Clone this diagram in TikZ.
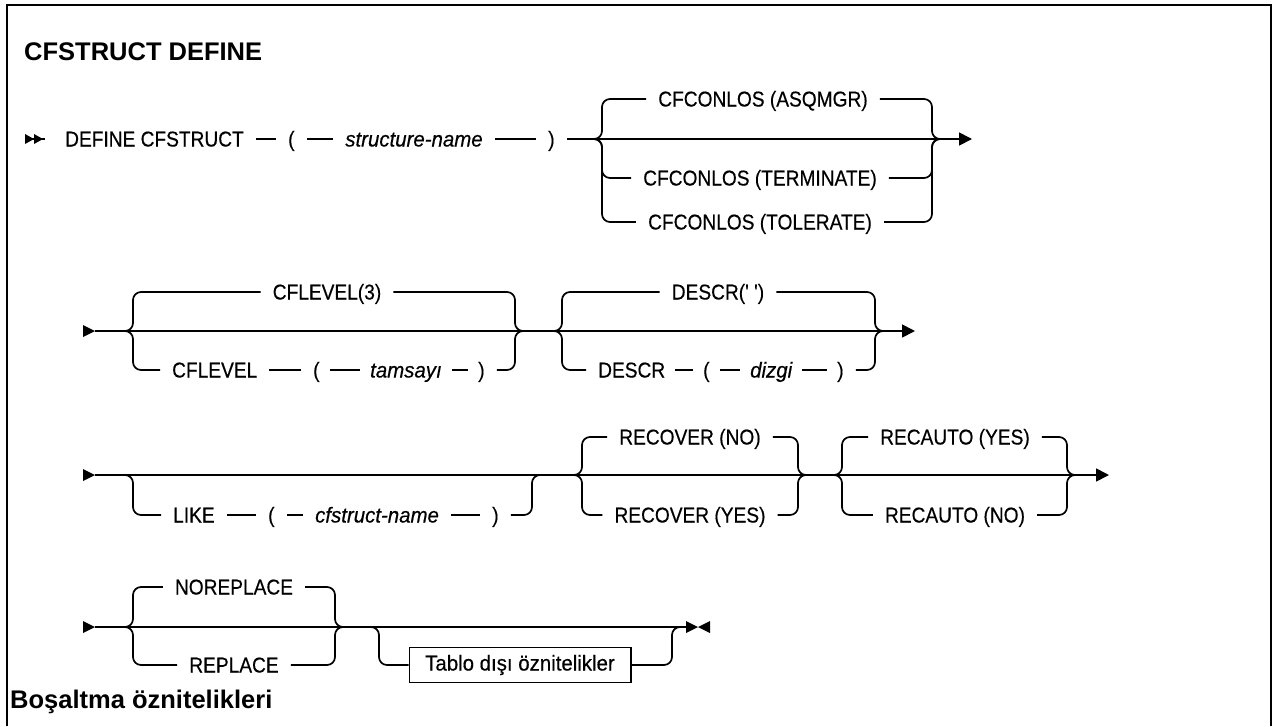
\documentclass[tikz,border=0pt]{standalone}
\usepackage{fontspec}
\setmainfont{Liberation Sans}[FakeStretch=0.89, FakeBold=0.4, Ligatures=TeXOff]
\newfontfamily\itfam{Liberation Sans}[FakeStretch=0.95, FakeBold=0.4, Ligatures=TeXOff]
\newfontfamily\hdfam{Liberation Sans}
\usetikzlibrary{arrows.meta}
\newcommand\tsz{\fontsize{21.5}{24}\selectfont}
\tikzset{
  synline/.style={line width=1.7pt},
  rline/.style={line width=1.7pt, rounded corners=8pt},
  tok/.style={inner sep=0pt, text height=15pt, text depth=0pt, font=\tsz},
  itok/.style={tok, font=\tsz\itfam\itshape},
  head/.style={inner sep=0pt, anchor=base west, font=\hdfam\bfseries\fontsize{25.5}{29}\selectfont},
  ntbox/.style={draw, line width=1.4pt, inner xsep=16pt, inner ysep=8pt, text height=15pt, text depth=4pt, font=\tsz\itfam},
  arrowend/.style={line width=1.7pt, -{Triangle[length=13pt,width=13pt]}},
  starttip/.style={fill=black},
}
\begin{document}
\begin{tikzpicture}[x=1pt, y=-1pt]
\useasboundingbox (0,0) rectangle (1274,726);
\fill[white] (0,0) rectangle (1274,726);
% frame
\draw[line width=2.5pt] (7,726) -- (7,5) -- (1271,5) -- (1271,726);
% headings
\node[head] (title) at (24,60) {CFSTRUCT DEFINE};
\node[head] (sub) at (10,708) {Boşaltma öznitelikleri};

% ---------------- Row 1 ----------------
\fill[starttip] (25,134) -- (34,139) -- (25,144) -- cycle;
\fill[starttip] (34,134) -- (43,139) -- (34,144) -- cycle;
\coordinate (s1) at (25,139);
\node[tok, anchor=west] (r1a) at (65,139) {DEFINE CFSTRUCT};
\node[tok, anchor=west] (r1lp) at (288,139) {(};
\node[itok] (r1sn) at (414,139) {structure-name};
\node[tok, anchor=west] (r1rp) at (548,139) {)};
\draw[synline] (s1) -- ([xshift=-20]r1a.west);
\draw[synline] ([xshift=12]r1a.east) -- ([xshift=-12]r1lp.west);
\draw[synline] ([xshift=12]r1lp.east) -- ([xshift=-12]r1sn.west);
\draw[synline] ([xshift=12]r1sn.east) -- ([xshift=-12]r1rp.west);
\coordinate (b1l) at (602,139);
\coordinate (b1r) at (932,139);
\coordinate (e1) at (972,139);
\draw[arrowend] ([xshift=12]r1rp.east) -- (e1);
\node[tok] (o1a) at (763,99) {CFCONLOS (ASQMGR)};
\node[tok] (o1b) at (760,178) {CFCONLOS (TERMINATE)};
\node[tok] (o1c) at (760,222) {CFCONLOS (TOLERATE)};
\foreach \n in {o1a,o1b,o1c} {
  \draw[rline] ([xshift=-10]b1l) -- (b1l) |- ([xshift=-12]\n.west);
  \draw[rline] ([xshift=12]\n.east) -| (b1r) -- ([xshift=10]b1r);
}

% ---------------- Row 2 ----------------
\fill[starttip] (83,325) -- (95,331) -- (83,337) -- cycle;
\coordinate (s2) at (95,331);
\coordinate (b2l) at (133,331);
\coordinate (b2r) at (515,331);
\coordinate (b3l) at (562,331);
\coordinate (b3r) at (875,331);
\coordinate (e2) at (915,331);
\draw[arrowend] (s2) -- (e2);
\node[tok] (o2a) at (327,292) {CFLEVEL(3)};
\node[tok, anchor=west] (o2b) at (172,370) {CFLEVEL};
\node[tok, anchor=west] (o2c) at (313,370) {(};
\node[itok, anchor=west] (o2d) at (370,370) {tamsayı};
\node[tok, anchor=west] (o2e) at (478,370) {)};
\draw[rline] ([xshift=-10]b2l) -- (b2l) |- ([xshift=-12]o2a.west);
\draw[rline] ([xshift=12]o2a.east) -| (b2r) -- ([xshift=10]b2r);
\draw[rline] ([xshift=-10]b2l) -- (b2l) |- ([xshift=-12]o2b.west);
\draw[synline] ([xshift=12]o2b.east) -- ([xshift=-12]o2c.west);
\draw[synline] ([xshift=10]o2c.east) -- ([xshift=-10]o2d.west);
\draw[synline] ([xshift=10]o2d.east) -- ([xshift=-10]o2e.west);
\draw[rline] ([xshift=12]o2e.east) -| (b2r) -- ([xshift=10]b2r);
\node[tok] (o3a) at (718,292) {DESCR(' ')};
\node[tok, anchor=west] (o3b) at (598,370) {DESCR};
\node[tok, anchor=west] (o3c) at (703,370) {(};
\node[itok, anchor=west] (o3d) at (750,370) {dizgi};
\node[tok, anchor=west] (o3e) at (837,370) {)};
\draw[rline] ([xshift=-10]b3l) -- (b3l) |- ([xshift=-12]o3a.west);
\draw[rline] ([xshift=12]o3a.east) -| (b3r) -- ([xshift=10]b3r);
\draw[rline] ([xshift=-10]b3l) -- (b3l) |- ([xshift=-12]o3b.west);
\draw[synline] ([xshift=10]o3b.east) -- ([xshift=-10]o3c.west);
\draw[synline] ([xshift=10]o3c.east) -- ([xshift=-10]o3d.west);
\draw[synline] ([xshift=10]o3d.east) -- ([xshift=-10]o3e.west);
\draw[rline] ([xshift=12]o3e.east) -| (b3r) -- ([xshift=10]b3r);

% ---------------- Row 3 ----------------
\fill[starttip] (83,469) -- (95,475) -- (83,481) -- cycle;
\coordinate (s3) at (95,475);
\coordinate (b4l) at (133,475);
\coordinate (b4r) at (532,475);
\coordinate (b5l) at (582,475);
\coordinate (b5r) at (798,475);
\coordinate (b6l) at (842,475);
\coordinate (b6r) at (1067,475);
\coordinate (e3) at (1109,475);
\draw[arrowend] (s3) -- (e3);
\node[tok, anchor=west] (o4a) at (173,515) {LIKE};
\node[tok, anchor=west] (o4b) at (268,515) {(};
\node[itok, anchor=west] (o4c) at (315,515) {cfstruct-name};
\node[tok, anchor=west] (o4d) at (492,515) {)};
\draw[rline] ([xshift=-10]b4l) -- (b4l) |- ([xshift=-12]o4a.west);
\draw[synline] ([xshift=12]o4a.east) -- ([xshift=-12]o4b.west);
\draw[synline] ([xshift=12]o4b.east) -- ([xshift=-12]o4c.west);
\draw[synline] ([xshift=12]o4c.east) -- ([xshift=-12]o4d.west);
\draw[rline] ([xshift=12]o4d.east) -| (b4r) -- ([xshift=10]b4r);
\node[tok] (o5a) at (690,437) {RECOVER (NO)};
\node[tok] (o5b) at (690,515) {RECOVER (YES)};
\node[tok] (o6a) at (955,437) {RECAUTO (YES)};
\node[tok] (o6b) at (955,515) {RECAUTO (NO)};
\foreach \n in {o5a,o5b} {
  \draw[rline] ([xshift=-10]b5l) -- (b5l) |- ([xshift=-12]\n.west);
  \draw[rline] ([xshift=12]\n.east) -| (b5r) -- ([xshift=10]b5r);
}
\foreach \n in {o6a,o6b} {
  \draw[rline] ([xshift=-10]b6l) -- (b6l) |- ([xshift=-12]\n.west);
  \draw[rline] ([xshift=12]\n.east) -| (b6r) -- ([xshift=10]b6r);
}

% ---------------- Row 4 ----------------
\fill[starttip] (83,621) -- (95,627) -- (83,633) -- cycle;
\coordinate (s4) at (95,627);
\coordinate (b7l) at (133,627);
\coordinate (b7r) at (335,627);
\coordinate (b8l) at (379,627);
\coordinate (b8r) at (672,627);
\coordinate (e4) at (686,627);
\draw[synline] (s4) -- (e4);
\fill[starttip] (686,621) -- (698,627) -- (686,633) -- cycle;
\fill[starttip] (710,621) -- (698,627) -- (710,633) -- cycle;
\node[tok] (o7a) at (234,587) {NOREPLACE};
\node[tok] (o7b) at (234,665) {REPLACE};
\foreach \n in {o7a,o7b} {
  \draw[rline] ([xshift=-10]b7l) -- (b7l) |- ([xshift=-12]\n.west);
  \draw[rline] ([xshift=12]\n.east) -| (b7r) -- ([xshift=10]b7r);
}
\node[ntbox] (o8) at (520,665) {Tablo dışı öznitelikler};
\draw[rline] ([xshift=-10]b8l) -- (b8l) |- (o8.west);
\draw[rline] (o8.east) -| (b8r) -- ([xshift=10]b8r);
\end{tikzpicture}
\end{document}
